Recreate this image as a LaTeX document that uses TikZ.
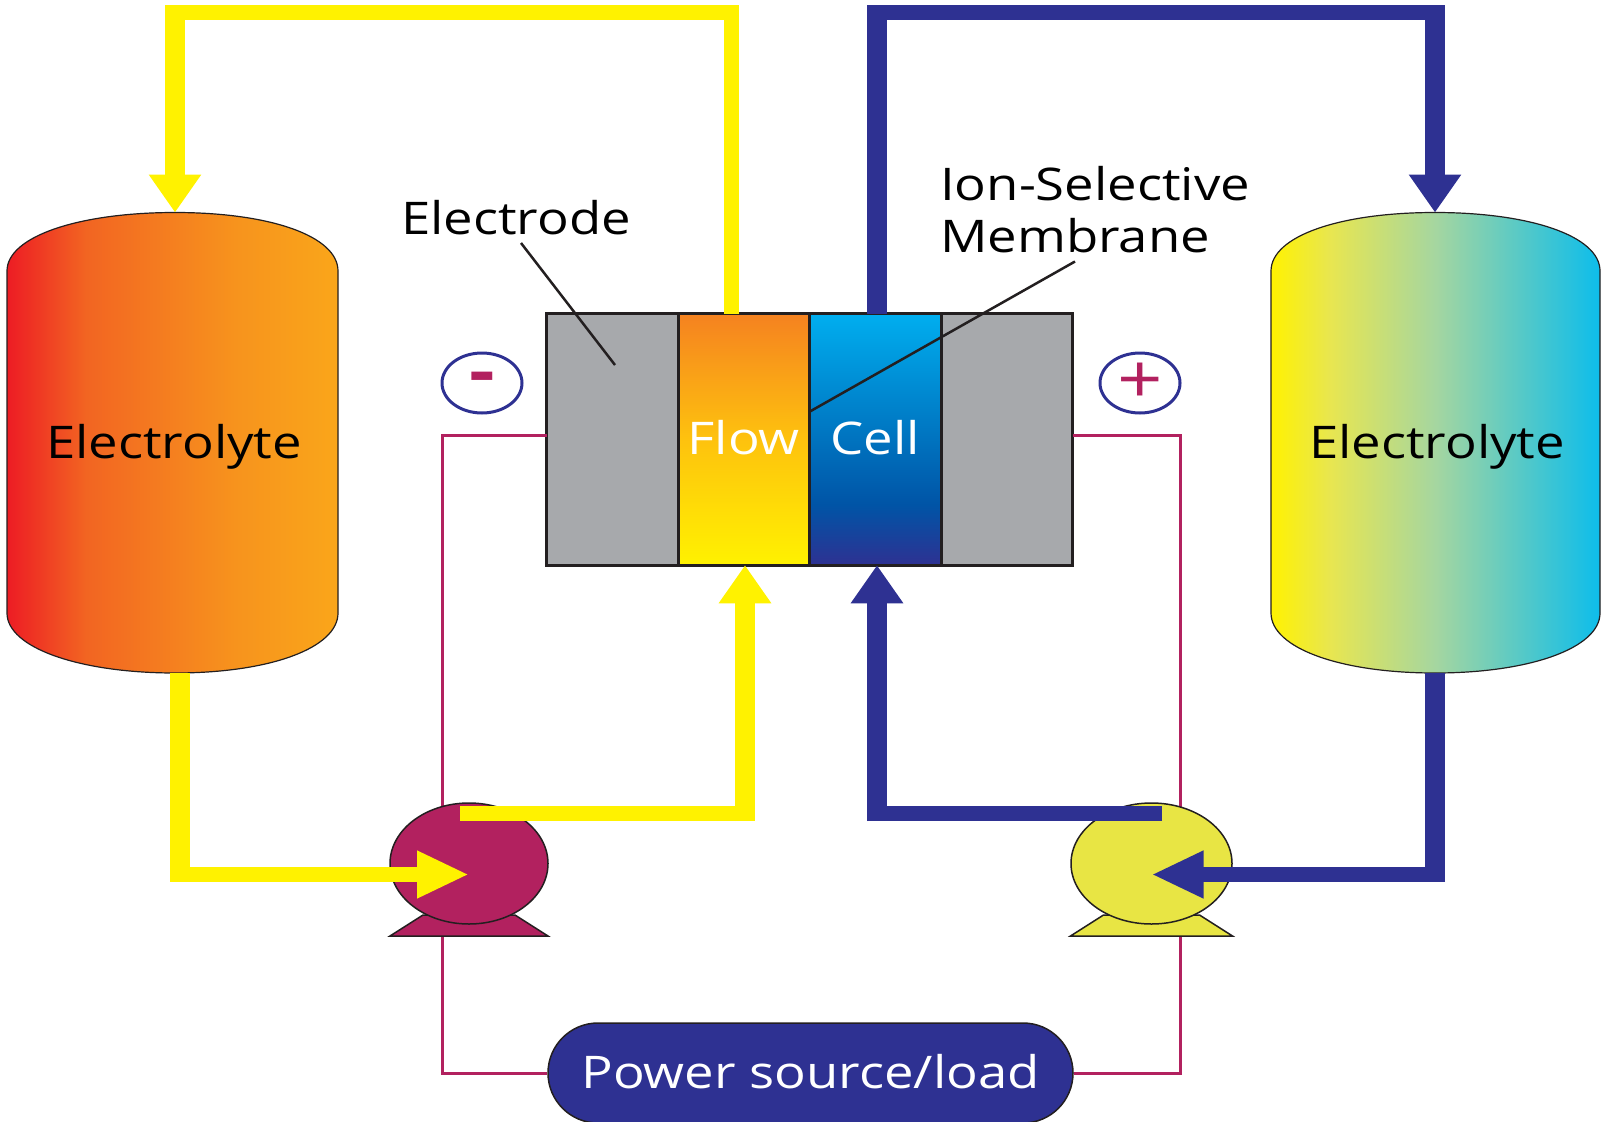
\documentclass[tikz,border=0pt]{standalone}
\usepackage{fontspec}
\setmainfont[FakeStretch=1.17]{Open Sans}
\usepackage{xcolor}
\usetikzlibrary{arrows.meta,positioning,shapes.geometric,shapes.misc,calc}

\definecolor{pipeyellow}{HTML}{FFF200}
\definecolor{pipeblue}{HTML}{2E3192}
\definecolor{wirepurple}{HTML}{B2215F}
\definecolor{electrodegray}{HTML}{A7A9AC}
\definecolor{pumpyellow}{HTML}{E8E544}
\definecolor{outline}{HTML}{231F20}
\definecolor{flowmid}{HTML}{FEC20E}
\definecolor{flowtop}{HTML}{F58220}
\definecolor{celldeep}{HTML}{0054A6}
\definecolor{celltop}{HTML}{00AEEF}
\definecolor{redend}{HTML}{ED1C24}
\definecolor{redmid}{HTML}{F26522}
\definecolor{orangemid}{HTML}{F7941D}
\definecolor{orangeend}{HTML}{FAA61A}
\definecolor{greenpale}{HTML}{E8E650}
\definecolor{greenmid}{HTML}{A5D6A0}
\definecolor{cyanend}{HTML}{0DBDEB}

\pgfdeclareverticalshading{flowshade}{100bp}{
    color(0bp)=(pipeyellow); color(25bp)=(pipeyellow);
    color(50bp)=(flowmid);
    color(75bp)=(flowtop); color(100bp)=(flowtop)}
\pgfdeclareverticalshading{cellshade}{100bp}{
    color(0bp)=(pipeblue); color(25bp)=(pipeblue);
    color(37bp)=(celldeep);
    color(75bp)=(celltop); color(100bp)=(celltop)}
\pgfdeclarehorizontalshading{tankleftshade}{100bp}{
    color(0bp)=(redend); color(25bp)=(redend);
    color(37bp)=(redmid);
    color(60bp)=(orangemid);
    color(75bp)=(orangeend); color(100bp)=(orangeend)}
\pgfdeclarehorizontalshading{tankrightshade}{100bp}{
    color(0bp)=(pipeyellow); color(25bp)=(pipeyellow);
    color(34bp)=(greenpale);
    color(50bp)=(greenmid);
    color(75bp)=(cyanend); color(100bp)=(cyanend)}

\begin{document}
\begin{tikzpicture}[
        x=1pt, y=-1pt,
        font=\fontsize{45}{50}\selectfont,
        cellpart/.style={
            draw=outline, line width=3pt, inner sep=0pt, outer sep=0pt,
            minimum width=131.5pt, minimum height=251.5pt
        },
        electrode/.style={cellpart, fill=electrodegray},
        tank/.style={draw=outline, line width=1.2pt},
        pump/.style={
            ellipse, draw=outline, line width=1.5pt, inner sep=0pt,
            minimum width=158pt, minimum height=121pt
        },
        pumpbase/.style={draw=outline, line width=1.5pt},
        pipeH/.style={line width=15pt},
        pipeV/.style={line width=20pt},
        headV/.style={-{Triangle[length=38pt,width=50pt]}},
        headH/.style={-{Triangle[length=52pt,width=44pt]}},
        wire/.style={draw=wirepurple, line width=3pt},
        callout/.style={draw=outline, line width=2.5pt},
        sign/.style={
            ellipse, draw=pipeblue, line width=3pt, inner sep=0pt,
            minimum width=80pt, minimum height=60pt, text=wirepurple,
            font=\fontsize{68}{70}\selectfont
        }
    ]
    \useasboundingbox (0,0) rectangle (1602,1121);

    % Cell
    \node[electrode] (elecL) at (612.3,439.5) {};
    \node[cellpart, shading=flowshade, right=0pt of elecL, text=white] (flow) {\raisebox{4pt}{Flow}};
    \node[cellpart, shading=cellshade, right=0pt of flow, text=white] (cell) {\raisebox{4pt}{Cell}};
    \node[electrode, right=0pt of cell] (elecR) {};

    % Tanks
    \path[tank, shading=tankleftshade]
        (7,271) .. controls (7,236) and (80,212.5) .. (175,212.5)
        .. controls (270,212.5) and (338,236) .. (338,271) -- (338,613)
        .. controls (338,648) and (270,673) .. (175,673)
        .. controls (80,673) and (7,648) .. (7,613) -- cycle;
    \path[tank, shading=tankrightshade]
        (1271,271) .. controls (1271,236) and (1340,212.5) .. (1435,212.5)
        .. controls (1530,212.5) and (1600,236) .. (1600,271) -- (1600,613)
        .. controls (1600,648) and (1530,673) .. (1435,673)
        .. controls (1340,673) and (1271,648) .. (1271,613) -- cycle;
    \node (tankL) at (174,447) {Electrolyte};
    \node (tankR) at (1437,447) {Electrolyte};
    \coordinate (tankLtop) at (175,212.5);
    \coordinate (tankLbot) at (180,673);
    \coordinate (tankRtop) at (1435,212.5);
    \coordinate (tankRbot) at (1435,673);

    % Power source and wires
    \node[rounded rectangle, draw=outline, line width=1.5pt, fill=pipeblue, text=white,
          inner sep=0pt, minimum width=525pt, minimum height=100pt] (power) at (810.5,1073) {\raisebox{4pt}{Power source/load}};
    \coordinate (wireL) at (442,435);
    \coordinate (wireR) at (1180,435);
    \coordinate (baseL) at (469,936);
    \coordinate (baseR) at (1151.5,936);
    \draw[wire] (elecL.west |- wireL) -- (wireL) -- (wireL |- 0,815);
    \draw[wire] (elecR.east |- wireR) -- (wireR) -- (wireR |- 0,815);
    \draw[wire] (wireL |- baseL) -- (wireL |- power.west) -- (power.west);
    \draw[wire] (wireR |- baseR) -- (wireR |- power.east) -- (power.east);

    % Pumps
    \draw[pumpbase, fill=wirepurple] (baseL) ++(-79,0) -- ++(33,-21) -- ++(92,0) -- ++(33,21) -- cycle;
    \draw[pumpbase, fill=pumpyellow] (baseR) ++(-81,0) -- ++(33,-21) -- ++(96,0) -- ++(33,21) -- cycle;
    \node[pump, fill=wirepurple] (pumpL) at (469,863.5) {};
    \node[pump, fill=pumpyellow, minimum width=161pt] (pumpR) at (1151.5,863.5) {};

    % Polarity signs
    \node[sign] (minus) at (482,383) {\raisebox{-4pt}{\textbf{-}}};
    \node[sign] (plus) at (1140,383) {+};

    % Upper yellow loop
    \coordinate (ytopR) at (731.5,13);
    \coordinate (ytopL) at (175,13);
    \draw[pipeH, pipeyellow] (flow.north -| ytopR) -- ([yshift=7.5pt]ytopR) ;
    \draw[pipeH, pipeyellow] ([xshift=7.5pt]ytopR) -- ([xshift=-10pt]ytopL);
    \draw[pipeV, pipeyellow, headV] ([yshift=7.5pt]ytopL) -- (tankLtop);

    % Upper blue loop
    \coordinate (btopL) at (877,13);
    \coordinate (btopR) at (1435,13);
    \draw[pipeV, pipeblue] (cell.north -| btopL) -- ([yshift=7.5pt]btopL);
    \draw[pipeH, pipeblue] ([xshift=-10pt]btopL) -- ([xshift=10pt]btopR);
    \draw[pipeV, pipeblue, headV] ([yshift=7.5pt]btopR) -- (tankRtop);

    % Lower yellow loop
    \coordinate (ylowL) at (180,874.5);
    \coordinate (yupR) at (745,813.5);
    \draw[pipeV, pipeyellow] (tankLbot) -- ([yshift=-7.5pt]ylowL);
    \draw[pipeH, pipeyellow, headH] ([xshift=-10pt]ylowL) -- (ylowL -| pumpL.center);
    \draw[pipeH, pipeyellow] (460,813.5) -- ([xshift=10pt]yupR);
    \draw[pipeV, pipeyellow, headV] ([yshift=-7.5pt]yupR) -- (yupR |- flow.south);

    % Lower blue loop
    \coordinate (blowR) at (1435,874.5);
    \coordinate (bupL) at (877,813.5);
    \draw[pipeV, pipeblue] (tankRbot) -- ([yshift=-7.5pt]blowR);
    \draw[pipeH, pipeblue, headH] ([xshift=10pt]blowR) -- (blowR -| pumpR.center);
    \draw[pipeH, pipeblue] (1162,813.5) -- ([xshift=-10pt]bupL);
    \draw[pipeV, pipeblue, headV] ([yshift=-7.5pt]bupL) -- (bupL |- cell.south);

    % Labels with their lines
    \node (electrodeText) at (516,218) {Electrode};
    \node[anchor=west, align=left, font=\fontsize{45}{52}\selectfont, inner sep=0pt] (membraneText) at (940,210) {Ion-Selective\\Membrane};
    \coordinate (electrodeTip) at (615,365);
    \coordinate (membraneTip) at (809,412);
    \draw[callout] (521,243) -- (electrodeTip);
    \draw[callout] (1075,261.5) -- (membraneTip);
\end{tikzpicture}
\end{document}
